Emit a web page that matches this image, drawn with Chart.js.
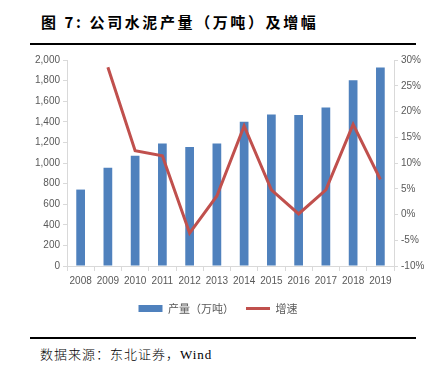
<!DOCTYPE html>
<html>
<head>
<meta charset="utf-8">
<script src="https://cdn.jsdelivr.net/npm/chart.js@4/dist/chart.umd.min.js"></script>
<style>
  html, body { margin: 0; padding: 0; background: #fff; }
  body { width: 436px; height: 375px; position: relative; overflow: hidden; }
  .title {
    position: absolute; left: 41px; top: 11px;
    font: bold 15px "Noto Sans CJK SC", sans-serif; letter-spacing: 2.6px; color: #000;
  }
  .rule { position: absolute; left: 30px; width: 386px; height: 1.5px; background: #000; }
  .src {
    position: absolute; left: 40px; top: 344px;
    font: 300 13px "Liberation Serif", "Noto Sans CJK SC", serif; color: #000; letter-spacing: 1px;
  }
  .wrap { position: absolute; left: 0; top: 48px; width: 436px; height: 282px; }
</style>
</head>
<body>
<div class="title">图&nbsp;7: 公司水泥产量（万吨）及增幅</div>
<div class="rule" style="top:43px"></div>
<div class="wrap"><canvas id="c"></canvas></div>
<div class="rule" style="top:337px"></div>
<div class="src">数据来源：东北证券，Wind</div>
<script>
// values
const years = ['2008', '2009', '2010', '2011', '2012', '2013', '2014', '2015', '2016', '2017', '2018', '2019'];
const output = [742, 955, 1071, 1190, 1155, 1190, 1400, 1471, 1465, 1539, 1803, 1926];
const growth = [null, 28.6, 12.4, 11.4, -3.6, 3.6, 17.2, 4.8, 0.1, 4.8, 17.5, 6.8];
const leftTicks = [0, 200, 400, 600, 800, 1000, 1200, 1400, 1600, 1800, 2000];
const rightTicks = [-10, -5, 0, 5, 10, 15, 20, 25, 30];

const axisColor = '#D9D9D9';
const tickColor = '#595959';
const tickFont = { family: "'Liberation Sans', sans-serif", size: 10 };

new Chart(document.getElementById('c'), {
  data: {
    labels: years,
    datasets: [
      {
        type: 'line',
        label: '增速',
        data: growth,
        yAxisID: 'y1',
        borderColor: '#C0504D',
        backgroundColor: '#C0504D',
        borderWidth: 3,
        pointRadius: 0,
        pointStyle: 'line',
        tension: 0,
        order: 0,
      },
      {
        type: 'bar',
        label: '产量（万吨）',
        data: output,
        yAxisID: 'y',
        backgroundColor: '#4F81BD',
        borderWidth: 0,
        pointStyle: 'rect',
        barPercentage: 0.32,
        categoryPercentage: 1,
        order: 1,
      },
    ],
  },
  options: {
    responsive: true,
    maintainAspectRatio: false,
    animation: false,
    layout: { padding: { top: 12, left: 0, right: 0, bottom: 6 } },
    plugins: {
      legend: {
        position: 'bottom',
        reverse: true,
        labels: {
          usePointStyle: true,
          pointStyleWidth: 24,
          boxHeight: 7,
          color: tickColor,
          font: { family: "'Noto Sans CJK SC', sans-serif", size: 11 },
          padding: 12,
        },
      },
      tooltip: { enabled: false },
    },
    scales: {
      x: {
        offset: true,
        grid: { offset: true, drawOnChartArea: false, drawTicks: true, tickLength: 5, color: axisColor },
        border: { color: axisColor },
        ticks: { color: tickColor, font: tickFont, maxRotation: 0, padding: 4 },
      },
      y: {
        position: 'left',
        min: 0,
        max: 2000,
        afterBuildTicks: s => { s.ticks = leftTicks.map(v => ({ value: v })); },
        afterFit: s => { s.width = 67; },
        grid: { drawOnChartArea: false, tickLength: 4, color: axisColor },
        border: { color: axisColor },
        ticks: {
          color: tickColor, font: tickFont, padding: 3,
          callback: v => v.toLocaleString('en-US'),
        },
      },
      y1: {
        position: 'right',
        min: -10,
        max: 30,
        afterBuildTicks: s => { s.ticks = rightTicks.map(v => ({ value: v })); },
        afterFit: s => { s.width = 42; },
        grid: { drawOnChartArea: false, tickLength: 4, color: axisColor },
        border: { color: axisColor },
        ticks: { color: tickColor, font: tickFont, padding: 3, callback: v => v + '%' },
      },
    },
  },
});
</script>
</body>
</html>
